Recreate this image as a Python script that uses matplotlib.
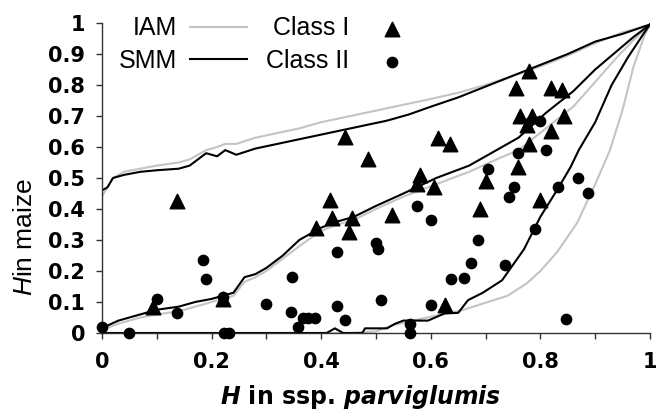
import numpy as np
import matplotlib
matplotlib.use("Agg")
import matplotlib.pyplot as plt
from matplotlib.ticker import MultipleLocator, FormatStrFormatter

# Upper envelope
x_up = [0, 0.01, 0.02, 0.04, 0.07, 0.1, 0.14, 0.16, 0.19, 0.21, 0.225, 0.245, 0.28, 0.32,
        0.36, 0.4, 0.44, 0.48, 0.52, 0.56, 0.6, 0.65, 0.7, 0.75, 0.8, 0.85, 0.9, 0.95, 1.0]
smm_up = [0.46, 0.47, 0.50, 0.51, 0.52, 0.525, 0.53, 0.54, 0.58, 0.57, 0.59, 0.575, 0.595, 0.61,
          0.625, 0.64, 0.655, 0.67, 0.685, 0.705, 0.73, 0.76, 0.795, 0.83, 0.865, 0.90, 0.94, 0.965, 0.995]
iam_up = [0.44, 0.47, 0.50, 0.52, 0.53, 0.54, 0.55, 0.56, 0.59, 0.60, 0.61, 0.61, 0.63, 0.645,
          0.66, 0.68, 0.695, 0.71, 0.725, 0.74, 0.755, 0.775, 0.80, 0.83, 0.86, 0.895, 0.935, 0.97, 0.995]

# Median
x_mid = [0, 0.03, 0.05, 0.07, 0.1, 0.14, 0.17, 0.2, 0.22, 0.24, 0.26, 0.28, 0.3, 0.33, 0.36,
         0.4, 0.43, 0.46, 0.5, 0.55, 0.61, 0.67, 0.72, 0.76, 0.81, 0.86, 0.9, 0.94, 0.97, 1.0]
smm_mid = [0.016, 0.04, 0.05, 0.06, 0.075, 0.085, 0.10, 0.11, 0.12, 0.13, 0.18, 0.19, 0.21, 0.25, 0.30,
           0.34, 0.36, 0.375, 0.41, 0.45, 0.50, 0.54, 0.59, 0.63, 0.71, 0.78, 0.85, 0.91, 0.955, 0.995]
iam_mid = [0.01, 0.03, 0.04, 0.05, 0.06, 0.07, 0.085, 0.10, 0.11, 0.12, 0.165, 0.18, 0.20, 0.24, 0.28,
           0.33, 0.35, 0.365, 0.40, 0.44, 0.48, 0.52, 0.56, 0.59, 0.66, 0.73, 0.81, 0.89, 0.945, 0.995]

# Lower envelope
x_low_smm = [0, 0.41, 0.425, 0.44, 0.475, 0.48, 0.52, 0.535, 0.55, 0.595, 0.625, 0.65, 0.668,
             0.695, 0.73, 0.77, 0.80, 0.83, 0.855, 0.87, 0.9, 0.93, 0.96, 0.99, 1.0]
smm_low = [0, 0, 0.015, 0, 0, 0.015, 0.015, 0.03, 0.04, 0.04, 0.063, 0.065, 0.106,
           0.13, 0.17, 0.27, 0.375, 0.46, 0.535, 0.59, 0.68, 0.80, 0.89, 0.97, 0.995]
x_low_iam = [0, 0.45, 0.5, 0.53, 0.58, 0.62, 0.66, 0.695, 0.74, 0.775, 0.80, 0.83, 0.867,
             0.90, 0.927, 0.95, 0.97, 0.99, 1.0]
iam_low = [0, 0, 0.005, 0.025, 0.045, 0.06, 0.075, 0.095, 0.12, 0.16, 0.20, 0.26, 0.355,
           0.48, 0.59, 0.72, 0.86, 0.96, 0.995]

# Class I loci (triangles)
c1_x = [0.137, 0.093, 0.22, 0.39, 0.416, 0.42, 0.443, 0.45, 0.456, 0.485, 0.53, 0.575, 0.58, 0.605,
        0.613, 0.625, 0.635, 0.69, 0.70, 0.755, 0.76, 0.763, 0.775, 0.78, 0.78, 0.785, 0.80, 0.82,
        0.82, 0.84, 0.843]
c1_y = [0.426, 0.085, 0.11, 0.34, 0.43, 0.37, 0.632, 0.325, 0.37, 0.56, 0.38, 0.48, 0.51, 0.47,
        0.63, 0.09, 0.61, 0.40, 0.49, 0.79, 0.535, 0.70, 0.67, 0.845, 0.61, 0.70, 0.43, 0.79,
        0.65, 0.785, 0.70]

# Class II loci (circles)
c2_x = [0.0, 0.05, 0.10, 0.137, 0.185, 0.19, 0.22, 0.222, 0.232, 0.30, 0.345, 0.347, 0.357, 0.367,
        0.376, 0.388, 0.429, 0.429, 0.443, 0.50, 0.503, 0.51, 0.562, 0.562, 0.575, 0.60, 0.60,
        0.637, 0.66, 0.673, 0.686, 0.705, 0.735, 0.743, 0.752, 0.76, 0.79, 0.80, 0.81, 0.832,
        0.847, 0.868, 0.887]
c2_y = [0.02, 0.0, 0.11, 0.065, 0.235, 0.175, 0.116, 0.0, 0.0, 0.093, 0.068, 0.18, 0.02, 0.048,
        0.048, 0.048, 0.26, 0.087, 0.042, 0.29, 0.27, 0.105, 0.03, 0.0, 0.41, 0.365, 0.09,
        0.175, 0.178, 0.225, 0.30, 0.53, 0.22, 0.44, 0.47, 0.58, 0.335, 0.685, 0.59, 0.47,
        0.045, 0.50, 0.45]

plt.rcParams['font.family'] = ['Liberation Sans', 'DejaVu Sans']
plt.rcParams['mathtext.fontset'] = 'custom'
plt.rcParams['mathtext.it'] = 'DejaVu Sans:italic:bold'
plt.rcParams['mathtext.sf'] = 'Liberation Sans:italic'

fig = plt.figure(figsize=(6.59, 4.11), dpi=100)
ax = fig.add_axes([102 / 659, 1 - 333 / 411, 548 / 659, 310 / 411])

gray = '#c4c4c4'
ax.plot(x_up, iam_up, color=gray, lw=1.5, label='IAM')
ax.plot(x_mid, iam_mid, color=gray, lw=1.5)
ax.plot(x_low_iam, iam_low, color=gray, lw=1.5)
ax.plot(x_up, smm_up, color='black', lw=1.5, label='SMM')
ax.plot(x_mid, smm_mid, color='black', lw=1.5)
ax.plot(x_low_smm, smm_low, color='black', lw=1.5)

tri = ax.scatter(c1_x, c1_y, marker='^', s=110, color='black', clip_on=False, zorder=3, label='Class I')
dots = ax.scatter(c2_x, c2_y, marker='o', s=55, color='black', clip_on=False, zorder=3, label='Class II')

ax.set_xlim(0, 1)
ax.set_ylim(0, 1)
for s in ['top', 'right']:
    ax.spines[s].set_visible(False)
for s in ['left', 'bottom']:
    ax.spines[s].set_linewidth(1.0)
    ax.spines[s].set_color('#333333')

ax.xaxis.set_major_locator(MultipleLocator(0.2))
ax.xaxis.set_minor_locator(MultipleLocator(0.1))
ax.yaxis.set_major_locator(MultipleLocator(0.1))
ax.xaxis.set_major_formatter(FormatStrFormatter('%g'))
ax.yaxis.set_major_formatter(FormatStrFormatter('%g'))
ax.tick_params(axis='both', which='both', direction='out', length=4, width=1, color='#333333')
ax.tick_params(axis='x', pad=10)
ax.tick_params(axis='y', pad=8)
for lab in ax.get_xticklabels() + ax.get_yticklabels():
    lab.set_fontfamily('DejaVu Sans')
    lab.set_fontweight('bold')
    lab.set_fontsize(15)

ax.set_xlabel(r'$\mathit{H}$ in ssp. $\mathit{parviglumis}$', family='DejaVu Sans',
              fontweight='bold', fontsize=17)
ax.xaxis.set_label_coords(0.471, -0.16)
ax.set_ylabel(r'$\mathsf{H}$in maize', fontsize=19)
ax.yaxis.set_label_coords(-0.119, 0.31)

leg1 = ax.legend(handles=ax.get_lines()[:1] + ax.get_lines()[3:4], labels=['IAM', 'SMM'],
                 loc='upper left', bbox_to_anchor=(-0.01, 1.094), frameon=False, markerfirst=False,
                 fontsize=18, handlelength=2.3, handletextpad=0.5, labelspacing=0.35)
ax.add_artist(leg1)
ax.legend(handles=[tri, dots], labels=['Class I', 'Class II'], loc='upper left',
          bbox_to_anchor=(0.259, 1.094), frameon=False, markerfirst=False, fontsize=18,
          handlelength=1.0, handletextpad=1.2, labelspacing=0.35)

plt.savefig('out.png', dpi=100)
